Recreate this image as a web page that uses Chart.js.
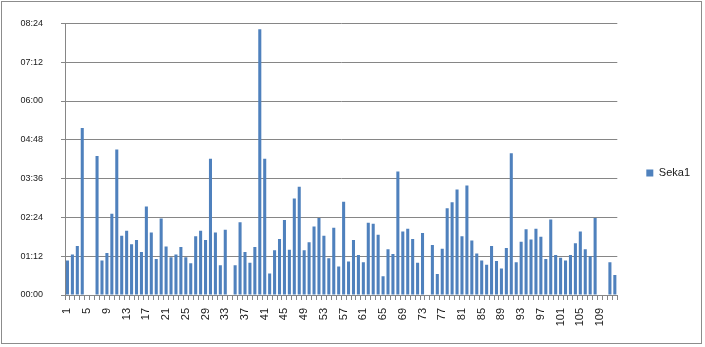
<!doctype html>
<html lang="en">
<head>
    <meta charset="utf-8" />
    <title>Seka1</title>
    <script src="https://cdn.jsdelivr.net/npm/chart.js@4.4.0/dist/chart.umd.min.js"></script>
    <style>
        html, body {
            margin: 0;
            padding: 0;
            background: #fff;
        }

        .wrap {
            position: relative;
            width: 705px;
            height: 347px;
        }

        /* outer chart frame like the spreadsheet chart object */
        .frame {
            position: absolute;
            left: 1px;
            top: 1px;
            width: 699px;
            height: 341px;
            border: 1px solid #8c8c8c;
            pointer-events: none;
        }
    </style>
</head>
<body>
    <div class="wrap">
        <canvas id="chart" width="705" height="347"></canvas>
        <div class="frame"></div>
    </div>

    <script>
        const seriesName = 'Seka1';

        const categories = [
            '1', '2', '3', '4', '5', '6', '7', '8', '9', '10',
            '11', '12', '13', '14', '15', '16', '17', '18', '19', '20',
            '21', '22', '23', '24', '25', '26', '27', '28', '29', '30',
            '31', '32', '33', '34', '35', '36', '37', '38', '39', '40',
            '41', '42', '43', '44', '45', '46', '47', '48', '49', '50',
            '51', '52', '53', '54', '55', '56', '57', '58', '59', '60',
            '61', '62', '63', '64', '65', '66', '67', '68', '69', '70',
            '71', '72', '73', '74', '75', '76', '77', '78', '79', '80',
            '81', '82', '83', '84', '85', '86', '87', '88', '89', '90',
            '91', '92', '93', '94', '95', '96', '97', '98', '99', '100',
            '101', '102', '103', '104', '105', '106', '107', '108', '109', '110',
            '111', '112'
        ];

        // durations in minutes (null = no value)
        const durations = [
            64, 75, 91, 310, null, null, 258, 64, 78, 151,
            270, 110, 119, 94, 102, 80, 164, 116, 67, 142,
            90, 70, 75, 89, 70, 59, 109, 119, 102, 253,
            116, 55, 121, null, 55, 135, 80, 60, 89, 493,
            253, 40, 83, 104, 139, 84, 179, 201, 83, 98,
            127, 143, 110, 68, 125, 53, 173, 62, 102, 74,
            61, 134, 132, 112, 35, 85, 76, 229, 118, 123,
            104, 60, 115, null, 93, 39, 86, 161, 172, 196,
            109, 203, 101, 77, 64, 56, 91, 63, 49, 87,
            263, 61, 99, 122, 103, 123, 108, 67, 140, 74,
            69, 64, 74, 96, 118, 85, 72, 143, null, null,
            61, 37
        ];

        const xTickLabels = ['1', '5', '9', '13', '17', '21', '25', '29', '33', '37', '41', '45', '49', '53',
            '57', '61', '65', '69', '73', '77', '81', '85', '89', '93', '97', '101', '105', '109'];

        const yTicks = [0, 72, 144, 216, 288, 360, 432, 504];

        const axisGray = '#868686';
        const textColor = '#1a1a1a';

        function toClock(minutes) {
            const h = Math.floor(minutes / 60);
            const m = minutes % 60;
            return String(h).padStart(2, '0') + ':' + String(m).padStart(2, '0');
        }

        const chart = new Chart(document.getElementById('chart'), {
            type: 'bar',
            data: {
                labels: categories,
                datasets: [{
                    label: seriesName,
                    data: durations,
                    backgroundColor: '#4F81BD',
                    borderWidth: 0,
                    barPercentage: 0.62,
                    categoryPercentage: 1.0
                }]
            },
            options: {
                responsive: false,
                animation: false,
                layout: {
                    padding: { top: 20, left: 0, right: 5, bottom: 21 }
                },
                plugins: {
                    legend: {
                        position: 'right',
                        labels: {
                            boxWidth: 7,
                            boxHeight: 7,
                            padding: 29,
                            color: textColor,
                            font: { family: 'Liberation Sans', size: 11 }
                        }
                    },
                    tooltip: { enabled: false }
                },
                scales: {
                    x: {
                        grid: {
                            display: true,
                            drawOnChartArea: false,
                            drawTicks: true,
                            tickLength: 5,
                            color: axisGray,
                            offset: true
                        },
                        border: { color: axisGray },
                        ticks: {
                            autoSkip: false,
                            minRotation: 90,
                            maxRotation: 90,
                            padding: 8,
                            color: textColor,
                            font: { family: 'Liberation Sans', size: 11 },
                            callback: function (value) {
                                const label = this.getLabelForValue(value);
                                return xTickLabels.includes(label) ? label : '';
                            }
                        },
                        afterFit: scale => { scale.height = 31; }
                    },
                    y: {
                        min: 0,
                        max: 504,
                        grid: {
                            color: axisGray,
                            tickLength: 4
                        },
                        border: { color: axisGray },
                        ticks: {
                            padding: 18,
                            color: textColor,
                            font: { family: 'Liberation Sans', size: 9 },
                            callback: value => toClock(value)
                        },
                        afterBuildTicks: scale => {
                            scale.ticks = yTicks.map(v => ({ value: v }));
                        },
                        afterFit: scale => { scale.width = 65; }
                    }
                }
            }
        });
    </script>
</body>
</html>
